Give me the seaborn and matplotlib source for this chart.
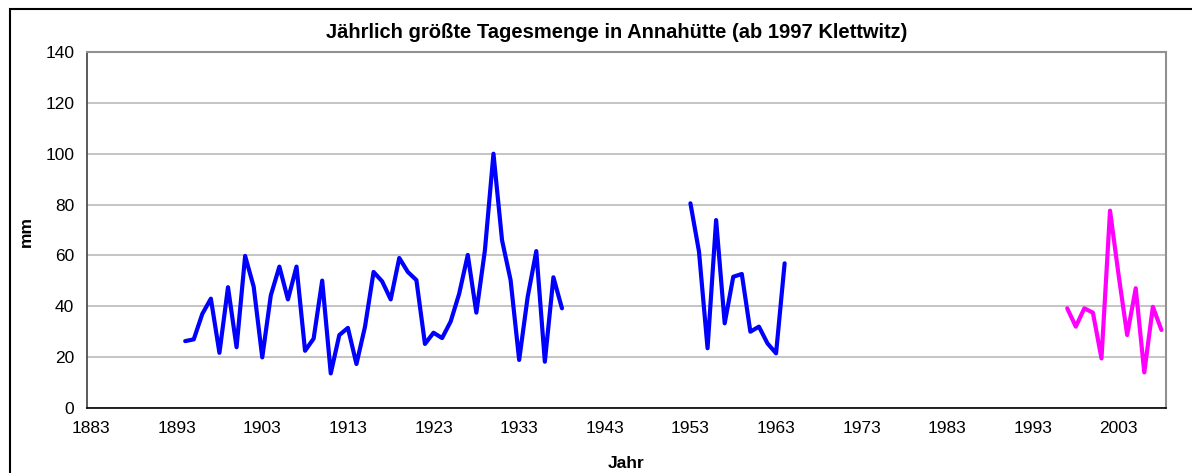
import numpy as np
import pandas as pd
import matplotlib
matplotlib.use("Agg")
import matplotlib.pyplot as plt
import seaborn as sns
from matplotlib.patches import Rectangle

# Annahütte, first series
years_a = list(range(1894, 1939))
mm_a = [26.3, 27.0, 37.0, 43.0, 21.7, 47.5, 23.9, 59.8, 47.7, 19.9,
        44.3, 55.6, 42.7, 55.6, 22.5, 27.3, 50.1, 13.6, 28.7, 31.5,
        17.3, 32.0, 53.5, 49.8, 42.7, 59.0, 53.5, 50.3, 25.2, 29.6,
        27.5, 34.0, 45.0, 60.2, 37.5, 62.0, 100.0, 66.0, 50.3, 18.9,
        43.8, 61.7, 18.2, 51.4, 39.2]

# Annahütte, second series
years_b = list(range(1953, 1965))
mm_b = [80.5, 61.5, 23.5, 73.9, 33.3, 51.6, 52.7, 30.0, 32.0, 25.4, 21.5, 56.9]

# Klettwitz from 1997
years_c = list(range(1997, 2009))
mm_c = [39.2, 32.0, 39.2, 37.5, 19.5, 77.6, 52.3, 28.7, 47.1, 14.0, 39.8, 30.7]

tick_years = list(range(1883, 2004, 10))

df_a = pd.DataFrame({"Jahr": years_a, "mm": mm_a})
df_b = pd.DataFrame({"Jahr": years_b, "mm": mm_b})
df_c = pd.DataFrame({"Jahr": years_c, "mm": mm_c})

sns.set_style("white")
plt.rcParams["font.family"] = ["Liberation Sans", "DejaVu Sans"]
plt.rcParams["text.color"] = "black"
plt.rcParams["xtick.color"] = "black"
plt.rcParams["ytick.color"] = "black"
plt.rcParams["axes.labelcolor"] = "black"

fig = plt.figure(figsize=(11.92, 4.73), dpi=100)
ax = fig.add_axes([86.7 / 1192, 1 - 408 / 473, (1165.7 - 86.7) / 1192, 356 / 473])

# outer chart frame
fig.patches.append(Rectangle((10 / 1192, -0.1), 1.2, 1 - 9 / 473 + 0.1,
                             transform=fig.transFigure, fill=False,
                             edgecolor="black", linewidth=1.5))

sns.lineplot(data=df_a, x="Jahr", y="mm", color="#0000ff", linewidth=3.0, ax=ax)
sns.lineplot(data=df_b, x="Jahr", y="mm", color="#0000ff", linewidth=3.0, ax=ax)
sns.lineplot(data=df_c, x="Jahr", y="mm", color="#ff00ff", linewidth=3.0, ax=ax)

ax.set_xlim(1882.5, 2008.5)
ax.set_ylim(0, 140)
ax.set_yticks(range(0, 141, 20))
ax.yaxis.grid(True, color="#b4b4b4", linewidth=1.1)
ax.set_axisbelow(True)

# labels centred on categories, tick marks on category borders
ax.set_xticks(tick_years)
ax.set_xticklabels([str(y) for y in tick_years])
ax.set_xticks([y - 0.5 for y in tick_years], minor=True)
ax.tick_params(axis="x", which="major", length=0, pad=9, labelsize=12.5)
ax.tick_params(axis="x", which="minor", length=5, width=1, color="black", direction="out")
ax.tick_params(axis="y", length=5, width=1, color="black", direction="out", pad=4, labelsize=12.5)

for side in ["top", "right"]:
    ax.spines[side].set_color("#909090")
    ax.spines[side].set_linewidth(1.5)
ax.spines["left"].set_color("#404040")
ax.spines["left"].set_linewidth(1.2)
ax.spines["bottom"].set_color("black")
ax.spines["bottom"].set_linewidth(1.2)

ax.set_xlabel("")
ax.set_ylabel("")
fig.text(26 / 1192, 1 - 231 / 473, "mm", rotation=90, ha="center", va="center",
         fontsize=12.5, fontweight="bold")
fig.text(626 / 1192, 1 - 463 / 473, "Jahr", ha="center", va="center",
         fontsize=12.5, fontweight="bold")
fig.text(617 / 1192, 1 - 33 / 473,
         "Jährlich größte Tagesmenge in Annahütte (ab 1997 Klettwitz)",
         ha="center", va="center", fontsize=14.5, fontweight="bold")

fig.savefig("out.png", dpi=100)
